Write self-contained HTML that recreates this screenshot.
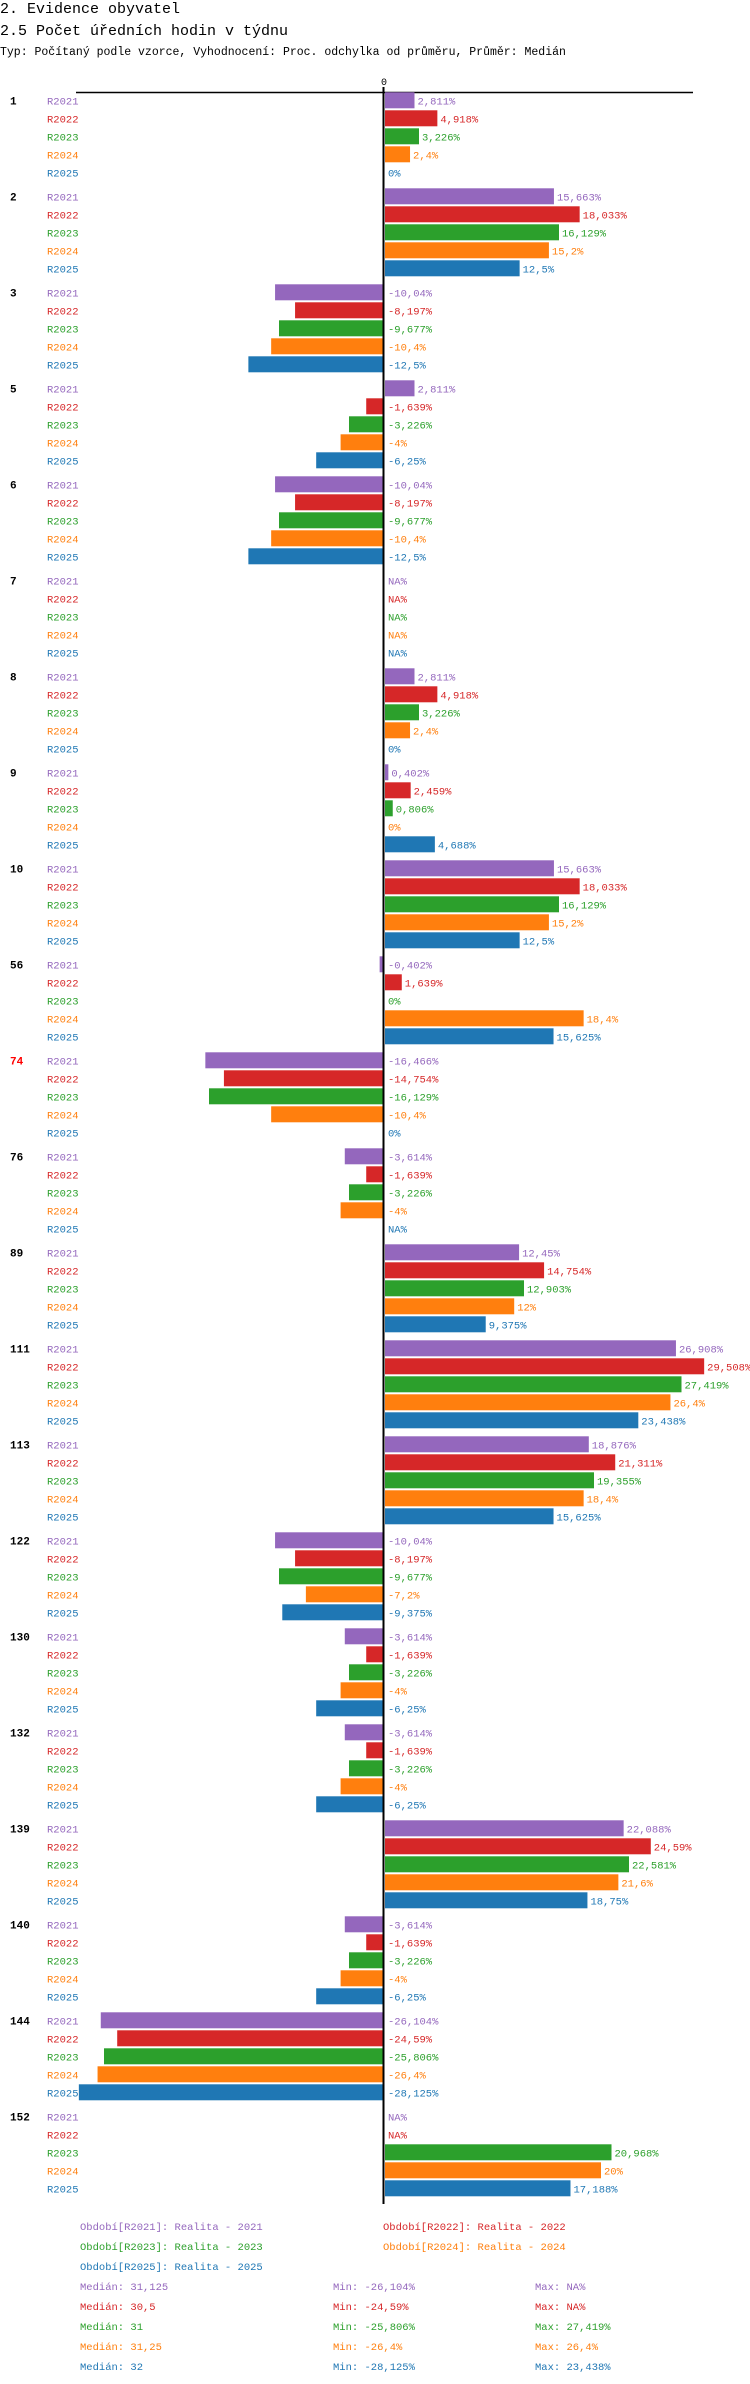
<!DOCTYPE html>
<html><head><meta charset="utf-8"><style>
body{margin:0;background:#fff;width:750px;height:2384px;overflow:hidden}
svg{display:block}
text{font-family:"Liberation Mono","DejaVu Sans Mono",monospace}
</style></head><body>
<svg id="chart" width="750" height="2384" xmlns="http://www.w3.org/2000/svg">
<text x="0" y="13" font-size="15" fill="#000">2. Evidence obyvatel</text>
<text x="0" y="35" font-size="15" fill="#000">2.5 Počet úředních hodin v týdnu</text>
<text x="0" y="55" font-size="11.5" fill="#000">Typ: Počítaný podle vzorce, Vyhodnocení: Proc. odchylka od průměru, Průměr: Medián</text>
<text x="384" y="85" font-size="10" text-anchor="middle" fill="#000">0</text>
<line x1="76" y1="92.5" x2="693" y2="92.5" stroke="#000" stroke-width="1.5"/>
<g id="bars"></g>
<line x1="383.5" y1="87" x2="383.5" y2="2204" stroke="#000" stroke-width="2"/>
<g id="legend"></g>
</svg>
<script>
const groups = ["1","2","3","5","6","7","8","9","10","56","74","76","89","111","113","122","130","132","139","140","144","152"];
const series = ["R2021","R2022","R2023","R2024","R2025"];
const colors = ["#9467bd","#d62728","#2ca02c","#ff7f0e","#1f77b4"];
const r2021 = [2.811,15.663,-10.04,2.811,-10.04,null,2.811,0.402,15.663,-0.402,-16.466,-3.614,12.45,26.908,18.876,-10.04,-3.614,-3.614,22.088,-3.614,-26.104,null];
const r2022 = [4.918,18.033,-8.197,-1.639,-8.197,null,4.918,2.459,18.033,1.639,-14.754,-1.639,14.754,29.508,21.311,-8.197,-1.639,-1.639,24.59,-1.639,-24.59,null];
const r2023 = [3.226,16.129,-9.677,-3.226,-9.677,null,3.226,0.806,16.129,0,-16.129,-3.226,12.903,27.419,19.355,-9.677,-3.226,-3.226,22.581,-3.226,-25.806,20.968];
const r2024 = [2.4,15.2,-10.4,-4,-10.4,null,2.4,0,15.2,18.4,-10.4,-4,12,26.4,18.4,-7.2,-4,-4,21.6,-4,-26.4,20];
const r2025 = [0,12.5,-12.5,-6.25,-12.5,null,0,4.688,12.5,15.625,0,null,9.375,23.438,15.625,-9.375,-6.25,-6.25,18.75,-6.25,-28.125,17.188];
const values = [r2021,r2022,r2023,r2024,r2025];
const highlightGroups = ["74"];
const legendNames = ["Období[R2021]: Realita - 2021","Období[R2022]: Realita - 2022","Období[R2023]: Realita - 2023","Období[R2024]: Realita - 2024","Období[R2025]: Realita - 2025"];
const medians = ["31,125","30,5","31","31,25","32"];
const mins = ["-26,104%","-24,59%","-25,806%","-26,4%","-28,125%"];
const maxs = ["NA%","NA%","27,419%","26,4%","23,438%"];

const NS="http://www.w3.org/2000/svg";
const X0=384, PX=10.85;
const xs = v => X0 + v*PX;
const rowY = (g,s) => 100.3 + g*96 + s*18;
const fmt = v => v===null ? "NA%" : String(v).replace('.',',')+"%";
function mk(tag, attrs, parent){const e=document.createElementNS(NS,tag);for(const k in attrs)e.setAttribute(k,attrs[k]);parent.appendChild(e);return e;}
const bars=document.getElementById('bars');
groups.forEach((g,gi)=>{
  const gl=mk('text',{x:10,y:rowY(gi,0)+4,'font-size':11,'font-weight':'bold',fill:highlightGroups.includes(g)?'#ff0000':'#000'},bars);
  gl.textContent=g;
  
  
  series.forEach((s,si)=>{
    const y=rowY(gi,si), v=values[si][gi];
    const sl=mk('text',{x:47,y:y+4,'font-size':10.5,fill:colors[si]},bars);
    sl.textContent=s;
    
    
    let lx=X0+4;
    if(v!==null && v!==0){
      const x1=Math.min(xs(v),X0), x2=Math.max(xs(v),X0);
      const r=mk('rect',{x:v>0?x1+1:x1,y:y-8,width:Math.max(0,x2-x1-1),height:16,fill:colors[si]},bars);
      
      
      if(v>0) lx=xs(v)+3;
    }
    const vl=mk('text',{x:lx,y:y+4,'font-size':10.5,fill:colors[si]},bars);
    vl.textContent=fmt(v);
    
    
  });
});
const lg=document.getElementById('legend');
const lpos=[[80,2230],[383,2230],[80,2250],[383,2250],[80,2270]];
legendNames.forEach((n,i)=>{
  const t=mk('text',{x:lpos[i][0],y:lpos[i][1],'font-size':10.5,fill:colors[i]},lg);
  t.textContent=n;
  
  
});
series.forEach((s,i)=>{
  const y=2290+i*20;
  const a=mk('text',{x:80,y:y,'font-size':10.5,fill:colors[i]},lg);
  a.textContent='Medián: '+medians[i];
  
  
  const b=mk('text',{x:333,y:y,'font-size':10.5,fill:colors[i]},lg);
  b.textContent='Min: '+mins[i];
  
  
  const c=mk('text',{x:535,y:y,'font-size':10.5,fill:colors[i]},lg);
  c.textContent='Max: '+maxs[i];
  
  
});
</script>
</body></html>
